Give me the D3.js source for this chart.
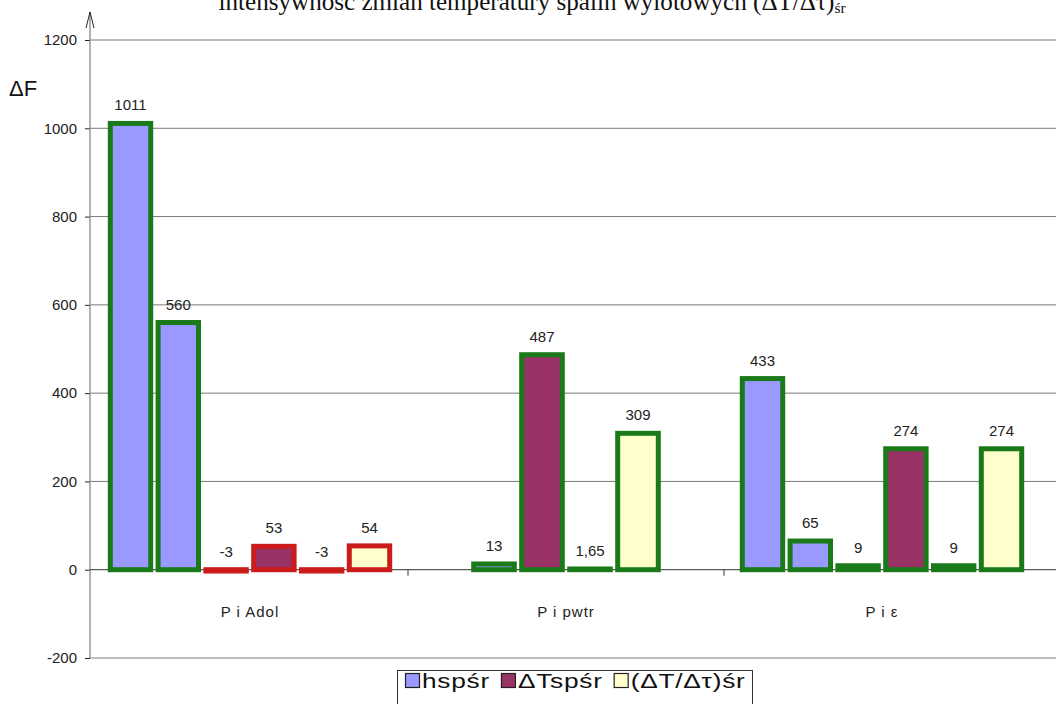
<!DOCTYPE html>
<html><head><meta charset="utf-8">
<script src="https://cdn.jsdelivr.net/npm/d3@7"></script>
<style>body{margin:0;background:#fff;overflow:hidden}</style>
</head><body><svg id="c" width="1056" height="704"></svg>
<script>
// ---- data ----
const categories = ["P i Adol", "P i pwtr", "P i ε"];
const seriesNames = ["hspśr", "ΔTspśr", "(ΔT/Δτ)śr"];
const seriesColors = ["#9999FF", "#993366", "#FFFFCC"];
const adolValues = [1011, 560, -3, 53, -3, 54];
const adolSeries = [0, 0, 1, 1, 2, 2];
const adolEdge = ["green", "green", "red", "red", "red", "red"];
const pwtrValues = [13, 487, 1.65, 309];
const pwtrSeries = [0, 1, 2, 2];
const pwtrEdge = ["green", "green", "green", "green"];
const epsValues = [433, 65, 9, 274, 9, 274];
const epsSeries = [0, 0, 1, 1, 2, 2];
const epsEdge = ["green", "green", "green", "green", "green", "green"];
const yTicks = [-200, 0, 200, 400, 600, 800, 1000, 1200];
const yLabel = "ΔF";
const titleMain = "intensywność zmian temperatury spalin wylotowych (ΔT/Δτ)";
const titleSub = "śr";

// ---- style ----
const edgeColors = {green: "#1a7a1a", red: "#cc1b1b"};
const W = 1056, H = 704;
const svg = d3.select("#c");
const sans = "'Liberation Sans', Arial, sans-serif";

const y = d3.scaleLinear().domain([-200, 1200]).range([658, 40]);
const x = d3.scaleBand().domain(categories).range([92, 1040]);
const axisX = 90;

const groups = [
  {cat: categories[0], values: adolValues, series: adolSeries, edge: adolEdge},
  {cat: categories[1], values: pwtrValues, series: pwtrSeries, edge: pwtrEdge},
  {cat: categories[2], values: epsValues, series: epsSeries, edge: epsEdge}
];

// title (cut at top as in reference)
const title = svg.append("text")
  .attr("x", 0).attr("y", 10)
  .attr("font-family", "'Liberation Serif', 'Times New Roman', serif")
  .attr("font-size", 20).attr("fill", "#111");
title.append("tspan").text(titleMain);
title.append("tspan").attr("font-size", 13).attr("dy", 3).text(titleSub);
{
  const w = title.node().getComputedTextLength();
  const fs = 20 * 628 / w;
  title.attr("font-size", fs);
  title.select("tspan:nth-child(2)").attr("font-size", fs * 0.62);
  const w2 = title.node().getBBox().width;
  title.attr("x", 217 + (631 - w2) / 2);
}

// gridlines
svg.append("g").selectAll("line").data(yTicks.filter(t => t !== 0)).join("line")
  .attr("x1", axisX).attr("x2", W)
  .attr("y1", d => y(d)).attr("y2", d => y(d))
  .attr("stroke", "#7a7a7a").attr("stroke-width", 1);

// y axis ticks + labels
const yAxis = d3.axisLeft(y).tickValues(yTicks).tickSize(5).tickPadding(8).tickFormat(d => String(d));
const ya = svg.append("g").attr("transform", `translate(${axisX},0)`).call(yAxis);
ya.select(".domain").remove();
ya.selectAll(".tick line").attr("stroke", "#222");
ya.selectAll(".tick text").attr("font-family", sans).attr("font-size", 15).attr("fill", "#222");

// vertical axis with arrow
svg.append("line").attr("x1", axisX).attr("x2", axisX).attr("y1", 12).attr("y2", y(-200))
  .attr("stroke", "#888").attr("stroke-width", 1.3);
svg.append("path").attr("d", `M${axisX - 4},28 L${axisX},12 L${axisX + 4},28`)
  .attr("fill", "none").attr("stroke", "#222").attr("stroke-width", 1);

// y label
svg.append("text").attr("x", 9).attr("y", 96).attr("font-family", sans).attr("font-size", 22)
  .attr("fill", "#111").text(yLabel);

// zero line
svg.append("line").attr("x1", axisX).attr("x2", W).attr("y1", y(0)).attr("y2", y(0))
  .attr("stroke", "#333").attr("stroke-width", 1);
// category separators
svg.append("g").selectAll("line").data(categories.slice(1)).join("line")
  .attr("x1", d => x(d)).attr("x2", d => x(d))
  .attr("y1", y(0)).attr("y2", y(0) + 6).attr("stroke", "#333");

// bars
const barStep = x.bandwidth() * 0.15;
groups.forEach(g => {
  const n = g.values.length;
  const cx = x(g.cat) + x.bandwidth() / 2;
  const inner = d3.scaleBand().domain(d3.range(n))
    .range([cx - n * barStep / 2, cx + n * barStep / 2]).paddingInner(0.05);
  const gg = svg.append("g");
  const rows = g.values.map((v, i) => ({v, i, s: g.series[i], e: g.edge[i]}));
  gg.selectAll("rect").data(rows).join("rect")
    .attr("x", d => inner(d.i) + 2.5)
    .attr("width", inner.bandwidth() - 5)
    .attr("y", d => y(Math.max(d.v, 0)))
    .attr("height", d => Math.abs(y(d.v) - y(0)))
    .attr("fill", d => seriesColors[d.s])
    .attr("stroke", d => edgeColors[d.e])
    .attr("stroke-width", 5);
  gg.selectAll("text").data(rows).join("text")
    .attr("x", d => inner(d.i) + inner.bandwidth() / 2)
    .attr("y", d => y(Math.max(d.v, 0)) - 13)
    .attr("text-anchor", "middle")
    .attr("font-family", sans).attr("font-size", 15).attr("fill", "#222")
    .text(d => String(d.v).replace(".", ","));
  svg.append("text").attr("x", cx).attr("y", 617).attr("text-anchor", "middle")
    .attr("font-family", sans).attr("font-size", 15).attr("letter-spacing", 1)
    .attr("fill", "#222").text(g.cat);
});

// legend
const lg = svg.append("g");
lg.append("rect").attr("x", 397.5).attr("y", 670.5).attr("width", 355).attr("height", 50)
  .attr("fill", "#fff").attr("stroke", "#333").attr("stroke-width", 1);
let cur = 405;
const stretch = 1.25;
seriesNames.forEach((name, i) => {
  lg.append("rect").attr("x", cur + 0.5).attr("y", 673.5).attr("width", 14).attr("height", 14)
    .attr("fill", seriesColors[i]).attr("stroke", "#222").attr("stroke-width", 1.2);
  const tg = lg.append("g").attr("transform", `translate(${cur + 17},688) scale(${stretch},1)`);
  const t = tg.append("text").attr("x", 0).attr("y", 0)
    .attr("font-family", sans).attr("font-size", 21).attr("letter-spacing", 0.6)
    .attr("fill", "#111").text(name);
  cur += 17 + t.node().getComputedTextLength() * stretch + 11;
});
</script></body></html>
